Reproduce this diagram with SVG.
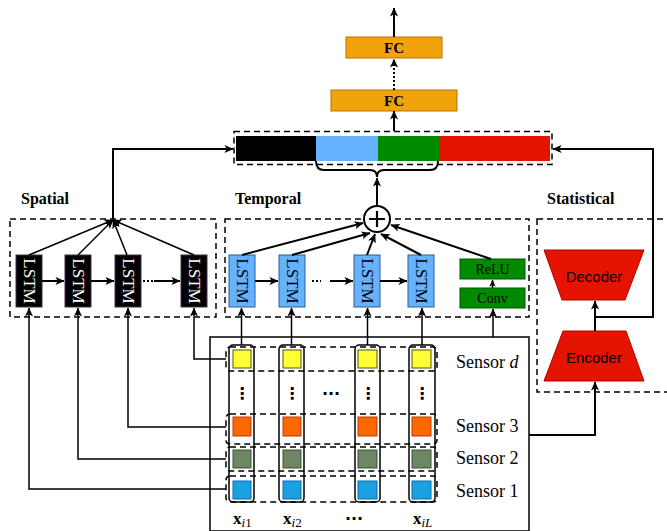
<svg xmlns="http://www.w3.org/2000/svg" width="667" height="531" viewBox="0 0 667 531">
<defs>
<marker id="arr" viewBox="0 0 10 10" refX="9.5" refY="5" markerWidth="9" markerHeight="9" markerUnits="userSpaceOnUse" orient="auto"><path d="M0,0.5 L10,5 L0,9.5 L2.5,5 z" fill="#000"/></marker>
<marker id="arrs" viewBox="0 0 10 10" refX="9.5" refY="5" markerWidth="7" markerHeight="7" markerUnits="userSpaceOnUse" orient="auto"><path d="M0,0.5 L10,5 L0,9.5 L2.5,5 z" fill="#000"/></marker>
<style>
.dash{fill:none;stroke:#000;stroke-width:1.5;stroke-dasharray:6 4}
.ln{fill:none;stroke:#000;stroke-width:2}
.lt{fill:none;stroke:#000;stroke-width:1.5}
.lbl{font-family:"Liberation Serif",serif;font-weight:bold;font-size:16px;fill:#000}
.fc{fill:#f0a30a;stroke:#bd7000;stroke-width:1}
.fct{font-family:"Liberation Serif",serif;font-weight:bold;font-size:15px;text-anchor:middle;fill:#000}
.sl{fill:#000;stroke:#432d57;stroke-width:1}
.tl{fill:#66b2ff;stroke:#2a5f94;stroke-width:1}
.lstm{font-family:"Liberation Serif",serif;font-size:17px;text-anchor:middle;dominant-baseline:central}
.grn{fill:#008a00;stroke:#005700;stroke-width:1}
.gt{font-family:"Liberation Serif",serif;font-size:14px;text-anchor:middle;dominant-baseline:central;fill:#000}
.red{fill:#e51400;stroke:#b20000;stroke-width:1}
.rt{font-family:"Liberation Sans",Arial,sans-serif;font-size:15px;text-anchor:middle;dominant-baseline:central;fill:#000}
.col{fill:none;stroke:#000;stroke-width:1.5}
.sen{font-family:"Liberation Serif",serif;font-size:18px;fill:#000}
.xl{font-family:"Liberation Serif",serif;font-size:17px;font-weight:bold;fill:#000}
.dots{font-family:"DejaVu Sans",sans-serif;font-size:16px;font-weight:bold;text-anchor:middle;fill:#000}
.ye{fill:#ffff33;stroke:#555500;stroke-width:1}
.or{fill:#fa6800;stroke:#c73500;stroke-width:1}
.gg{fill:#6d8764;stroke:#3a5431;stroke-width:1}
.bl{fill:#1ba1e2;stroke:#006eaf;stroke-width:1}
</style>
</defs>

<g id="fc-top">
<rect class="fc" x="346" y="37" width="96" height="21"/>
<text class="fct" x="394" y="53">FC</text>
</g>
<g id="fc-bottom">
<rect class="fc" x="331" y="90" width="126" height="21"/>
<text class="fct" x="394" y="106">FC</text>
</g>

<g id="concat">
<rect class="dash" x="234" y="131.5" width="318" height="33"/>
<rect x="236" y="136" width="80" height="25" fill="#000"/>
<rect x="316" y="136" width="62" height="25" fill="#66b2ff"/>
<rect x="378" y="136" width="61" height="25" fill="#008a00"/>
<rect x="439" y="136" width="111" height="25" fill="#e51400"/>
</g>

<g id="spatial">
<text class="lbl" x="21" y="204">Spatial</text>
<rect class="dash" x="10" y="219" width="206" height="98"/>
<rect class="sl" x="16" y="255" width="26" height="52"/>
<text class="lstm" fill="#fff" transform="translate(29,281) rotate(90)">LSTM</text>
<rect class="sl" x="65" y="255" width="26" height="52"/>
<text class="lstm" fill="#fff" transform="translate(78,281) rotate(90)">LSTM</text>
<rect class="sl" x="115" y="255" width="26" height="52"/>
<text class="lstm" fill="#fff" transform="translate(128,281) rotate(90)">LSTM</text>
<rect class="sl" x="181" y="255" width="26" height="52"/>
<text class="lstm" fill="#fff" transform="translate(194,281) rotate(90)">LSTM</text>
</g>

<g id="temporal">
<text class="lbl" x="235" y="204">Temporal</text>
<rect class="dash" x="225" y="219" width="304" height="98"/>
<rect class="tl" x="229" y="255" width="26" height="52"/>
<text class="lstm" fill="#000" transform="translate(242,281) rotate(90)">LSTM</text>
<rect class="tl" x="279" y="255" width="26" height="52"/>
<text class="lstm" fill="#000" transform="translate(292,281) rotate(90)">LSTM</text>
<rect class="tl" x="354" y="255" width="26" height="52"/>
<text class="lstm" fill="#000" transform="translate(367,281) rotate(90)">LSTM</text>
<rect class="tl" x="408" y="255" width="26" height="52"/>
<text class="lstm" fill="#000" transform="translate(421,281) rotate(90)">LSTM</text>
</g>
<g id="relu">
<rect class="grn" x="460" y="259" width="65" height="20"/>
<text class="gt" x="492.5" y="269">ReLU</text>
</g>
<g id="conv">
<rect class="grn" x="460" y="288" width="65" height="20"/>
<text class="gt" x="492.5" y="298">Conv</text>
</g>
<g id="sum">
<circle cx="377" cy="219" r="13" fill="#fff" stroke="#000" stroke-width="2"/>
<path d="M369,219 H385 M377,211 V227" stroke="#000" stroke-width="2.2"/>
</g>

<g id="statistical">
<text class="lbl" x="547" y="204">Statistical</text>
<rect class="dash" x="537" y="219" width="150" height="173"/>
</g>
<g id="decoder">
<path class="red" d="M544,250 H644 L625,300 H562 Z"/>
<text class="rt" x="594" y="276">Decoder</text>
</g>
<g id="encoder">
<path class="red" d="M563,331 H626 L644,381 H544 Z"/>
<text class="rt" x="594" y="357">Encoder</text>
</g>

<g id="input">
<rect x="210" y="337" width="319" height="194" fill="none" stroke="#000" stroke-width="1.5"/>
<rect class="dash" x="226" y="347" width="211" height="24" rx="4"/>
<rect class="dash" x="226" y="414" width="211" height="30" rx="4"/>
<rect class="dash" x="226" y="447" width="211" height="24" rx="4"/>
<rect class="dash" x="226" y="476" width="211" height="26" rx="4"/>
<rect class="col" x="229" y="345" width="25" height="157" rx="4"/>
<rect class="col" x="279" y="345" width="25" height="157" rx="4"/>
<rect class="col" x="355" y="345" width="25" height="157" rx="4"/>
<rect class="col" x="409" y="345" width="26" height="157" rx="4"/>
<rect class="ye" x="233" y="350" width="18" height="18"/>
<rect class="ye" x="283" y="350" width="18" height="18"/>
<rect class="ye" x="358" y="350" width="19" height="18"/>
<rect class="ye" x="412" y="350" width="19" height="18"/>
<rect class="or" x="233" y="417" width="18" height="19"/>
<rect class="or" x="283" y="417" width="18" height="19"/>
<rect class="or" x="358" y="417" width="19" height="19"/>
<rect class="or" x="412" y="417" width="19" height="19"/>
<rect class="gg" x="233" y="450" width="18" height="18"/>
<rect class="gg" x="283" y="450" width="18" height="18"/>
<rect class="gg" x="358" y="450" width="19" height="18"/>
<rect class="gg" x="412" y="450" width="19" height="18"/>
<rect class="bl" x="233" y="481" width="18" height="18"/>
<rect class="bl" x="283" y="481" width="18" height="18"/>
<rect class="bl" x="358" y="481" width="19" height="18"/>
<rect class="bl" x="412" y="481" width="19" height="18"/>
<text class="dots" x="242" y="399">⋮</text>
<text class="dots" x="292" y="399">⋮</text>
<text class="dots" x="368" y="399">⋮</text>
<text class="dots" x="422" y="399">⋮</text>
<text class="dots" x="331" y="399">···</text>
<text class="sen" x="456" y="368">Sensor <tspan font-style="italic">d</tspan></text>
<text class="sen" x="456" y="432">Sensor 3</text>
<text class="sen" x="456" y="464">Sensor 2</text>
<text class="sen" x="456" y="497">Sensor 1</text>
<text class="xl" x="233" y="524">x<tspan font-weight="normal" font-size="13" dy="3"><tspan font-style="italic">i</tspan>1</tspan></text>
<text class="xl" x="283" y="524">x<tspan font-weight="normal" font-size="13" dy="3"><tspan font-style="italic">i</tspan>2</tspan></text>
<text class="dots" x="354" y="524">···</text>
<text class="xl" x="413" y="524">x<tspan font-weight="normal" font-size="13" dy="3" font-style="italic">iL</tspan></text>
</g>

<g id="connectors">
<line class="ln" x1="394" y1="37" x2="394" y2="8" marker-end="url(#arr)"/>
<line class="ln" x1="394" y1="90" x2="394" y2="59" stroke-dasharray="2 2" marker-end="url(#arr)"/>
<line class="ln" x1="394" y1="131" x2="394" y2="111" marker-end="url(#arr)"/>
<path class="ln" d="M316,161 Q316,170 324,170 L370,170 Q377,170 377,177 Q377,170 384,170 L430,170 Q438,170 438,161"/>
<line class="ln" x1="377" y1="206" x2="377" y2="178" marker-end="url(#arr)"/>
<polyline class="ln" points="113,220 113,149 233,149" marker-end="url(#arr)"/>
<polyline class="ln" points="595,317 653,317 653,149 553,149" marker-end="url(#arr)"/>
<line class="ln" x1="595" y1="331" x2="595" y2="301" marker-end="url(#arr)"/>
<polyline class="ln" points="529,435 595,435 595,382" marker-end="url(#arr)"/>
<line class="lt" x1="29" y1="255" x2="113" y2="220" marker-end="url(#arr)"/>
<line class="lt" x1="78" y1="255" x2="113" y2="220" marker-end="url(#arr)"/>
<line class="lt" x1="127" y1="255" x2="113" y2="220" marker-end="url(#arr)"/>
<line class="lt" x1="194" y1="255" x2="113" y2="220" marker-end="url(#arr)"/>
<line class="ln" x1="42" y1="281" x2="64" y2="281" marker-end="url(#arr)"/>
<line class="ln" x1="91" y1="281" x2="114" y2="281" marker-end="url(#arr)"/>
<line class="ln" x1="143" y1="281" x2="153" y2="281" stroke-dasharray="2 2"/>
<line class="ln" x1="154" y1="281" x2="180" y2="281" marker-end="url(#arr)"/>
<line class="ln" x1="242" y1="255" x2="363" y2="223" marker-end="url(#arr)"/>
<line class="ln" x1="292" y1="255" x2="370" y2="233" marker-end="url(#arr)"/>
<line class="ln" x1="367" y1="255" x2="375" y2="234" marker-end="url(#arr)"/>
<line class="ln" x1="421" y1="255" x2="381" y2="234" marker-end="url(#arr)"/>
<line class="ln" x1="491" y1="259" x2="391" y2="225" marker-end="url(#arr)"/>
<line class="ln" x1="255" y1="281" x2="278" y2="281" marker-end="url(#arr)"/>
<line class="ln" x1="312" y1="281" x2="321" y2="281" stroke-dasharray="2 2"/>
<line class="ln" x1="330" y1="281" x2="353" y2="281" marker-end="url(#arr)"/>
<line class="ln" x1="380" y1="281" x2="407" y2="281" marker-end="url(#arr)"/>
<line class="lt" x1="492.5" y1="288" x2="492.5" y2="280" marker-end="url(#arrs)"/>
<line class="lt" x1="241.5" y1="345" x2="241.5" y2="308" marker-end="url(#arr)"/>
<line class="lt" x1="291.5" y1="345" x2="291.5" y2="308" marker-end="url(#arr)"/>
<line class="lt" x1="367.5" y1="345" x2="367.5" y2="308" marker-end="url(#arr)"/>
<line class="lt" x1="422" y1="345" x2="422" y2="308" marker-end="url(#arr)"/>
<line class="lt" x1="493" y1="337" x2="493" y2="309" marker-end="url(#arr)"/>
<polyline class="lt" points="226,359 194,359 194,308" marker-end="url(#arr)"/>
<polyline class="lt" points="226,427 128,427 128,308" marker-end="url(#arr)"/>
<polyline class="lt" points="226,459 78,459 78,308" marker-end="url(#arr)"/>
<polyline class="lt" points="226,489 29,489 29,308" marker-end="url(#arr)"/>
</g>
</svg>
